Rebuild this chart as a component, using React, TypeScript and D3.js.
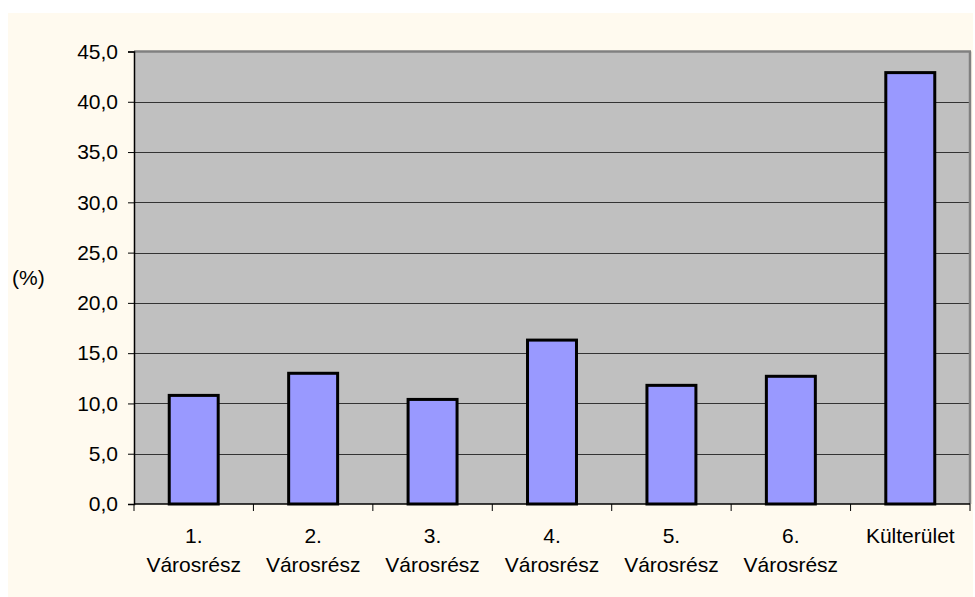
import * as d3 from "d3";
import { useEffect, useRef } from "react";

// category labels (two lines where needed)
const categories = ["1.", "2.", "3.", "4.", "5.", "6.", "Külterület"];
const categoryLines = [
  ["1.", "Városrész"],
  ["2.", "Városrész"],
  ["3.", "Városrész"],
  ["4.", "Városrész"],
  ["5.", "Városrész"],
  ["6.", "Városrész"],
  ["Külterület"],
];
const values = [10.8, 13.0, 10.4, 16.3, 11.8, 12.7, 42.9];
const yTicks = [0, 5, 10, 15, 20, 25, 30, 35, 40, 45];

function App() {
  const ref = useRef<SVGSVGElement>(null);

  useEffect(() => {
    const svg = d3.select(ref.current);
    svg.selectAll("*").remove();

    const width = 975;
    const height = 597;
    const plot = { left: 134, right: 970, top: 51.5, bottom: 504 };
    const font = "'Liberation Sans', Arial, sans-serif";

    // cream background panel
    svg.append("rect").attr("x", 0).attr("y", 0).attr("width", width).attr("height", height).attr("fill", "#fff");
    svg.append("rect")
      .attr("x", 8).attr("y", 13)
      .attr("width", 965).attr("height", 584)
      .attr("fill", "#fffaef");

    const x = d3.scaleBand().domain(categories).range([plot.left, plot.right]).padding(0);
    const y = d3.scaleLinear().domain([0, 45]).range([plot.bottom, plot.top]);

    // plot area
    svg.append("rect")
      .attr("x", plot.left).attr("y", plot.top)
      .attr("width", plot.right - plot.left).attr("height", plot.bottom - plot.top)
      .attr("fill", "#c0c0c0");

    // gridlines
    svg.append("g")
      .selectAll("line")
      .data(yTicks.filter(t => t > 0 && t < 45))
      .enter()
      .append("line")
      .attr("x1", plot.left).attr("x2", plot.right)
      .attr("y1", d => Math.round(y(d)) + 0.5).attr("y2", d => Math.round(y(d)) + 0.5)
      .attr("stroke", "#333").attr("stroke-width", 1);

    // gray frame top/right
    svg.append("line")
      .attr("x1", plot.left).attr("x2", plot.right + 1)
      .attr("y1", plot.top).attr("y2", plot.top)
      .attr("stroke", "#808080").attr("stroke-width", 2.5);
    svg.append("line")
      .attr("x1", plot.right).attr("x2", plot.right)
      .attr("y1", plot.top).attr("y2", plot.bottom)
      .attr("stroke", "#808080").attr("stroke-width", 2.5);

    // bars
    const barW = x.bandwidth() * 0.41;
    svg.append("g")
      .selectAll("rect")
      .data(values)
      .enter()
      .append("rect")
      .attr("x", (d, i) => (x(categories[i]) as number) + x.bandwidth() / 2 - barW / 2)
      .attr("y", d => y(d))
      .attr("width", barW)
      .attr("height", d => y(0) - y(d))
      .attr("fill", "#9999ff")
      .attr("stroke", "#000")
      .attr("stroke-width", 3);

    // y axis
    const yAxis = svg.append("g").attr("transform", `translate(${plot.left},0)`)
      .call(d3.axisLeft(y).tickValues(yTicks).tickSize(6).tickPadding(10)
        .tickFormat(d => d3.format(".1f")(d as number).replace(".", ",")));
    yAxis.select(".domain").attr("stroke", "#000").attr("stroke-width", 1.5);
    yAxis.selectAll(".tick line").attr("stroke", "#000");
    yAxis.selectAll("text")
      .style("font-family", font).style("font-size", "21px").attr("fill", "#000");

    // x axis
    const xAxis = svg.append("g").attr("transform", `translate(0,${plot.bottom})`);
    xAxis.append("line")
      .attr("x1", plot.left).attr("x2", plot.right)
      .attr("y1", 0).attr("y2", 0)
      .attr("stroke", "#000").attr("stroke-width", 1.5);
    const edges = [...categories.map(c => x(c) as number), plot.right];
    xAxis.selectAll("line.tick")
      .data(edges)
      .enter()
      .append("line")
      .attr("class", "tick")
      .attr("x1", d => d).attr("x2", d => d)
      .attr("y1", 0).attr("y2", 7)
      .attr("stroke", "#000");

    const labels = svg.append("g");
    categoryLines.forEach((lines, i) => {
      const cx = (x(categories[i]) as number) + x.bandwidth() / 2;
      lines.forEach((t, j) => {
        labels.append("text")
          .attr("x", cx)
          .attr("y", 543 + j * 29)
          .attr("text-anchor", "middle")
          .style("font-family", font)
          .style("font-size", "21px")
          .text(t);
      });
    });

    // y label
    svg.append("text")
      .attr("x", 12).attr("y", 285)
      .style("font-family", font).style("font-size", "21px")
      .text("(%)");
  }, []);

  return (
    <svg ref={ref} width={975} height={597}
      style={{ position: "absolute", left: 0, top: 0, display: "block" }} />
  );
}

export default App;
